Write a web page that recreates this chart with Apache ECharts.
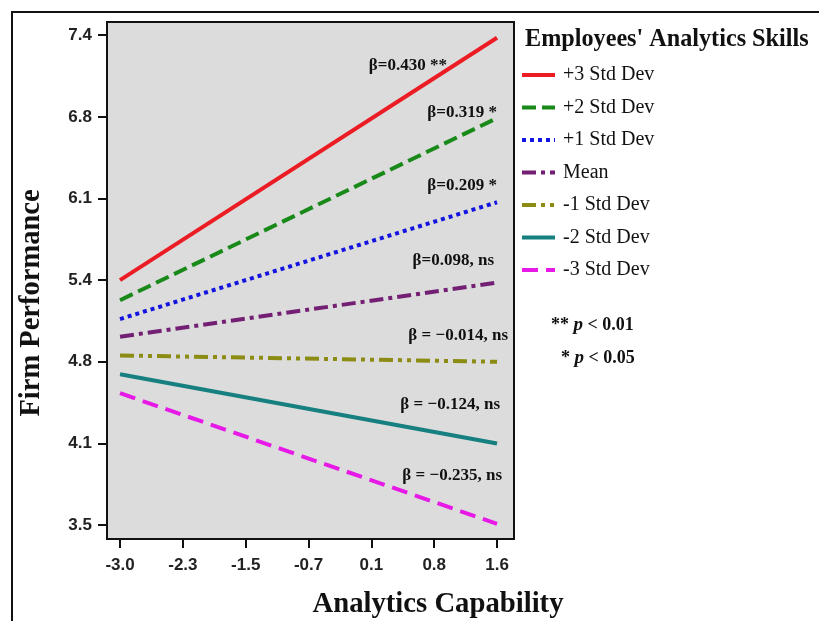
<!DOCTYPE html>
<html>
<head>
<meta charset="utf-8">
<script src="https://cdn.jsdelivr.net/npm/echarts@6/dist/echarts.min.js"></script>
<style>html,body{margin:0;padding:0;background:#fff}#c{width:819px;height:621px}</style>
</head>
<body>
<div id="c"></div>
<script>
// Data
const xValues = [-3.0, 1.6];
const seriesNames = ['+3 Std Dev', '+2 Std Dev', '+1 Std Dev', 'Mean', '-1 Std Dev', '-2 Std Dev', '-3 Std Dev'];
const plus3 = [5.45, 7.38];
const plus2 = [5.29, 6.74];
const plus1 = [5.14, 6.07];
const meanV = [5.00, 5.43];
const minus1 = [4.85, 4.80];
const minus2 = [4.70, 4.15];
const minus3 = [4.55, 3.51];
const xTickLabels = ['-3.0', '-2.3', '-1.5', '-0.7', '0.1', '0.8', '1.6'];
const yTickLabels = ['3.5', '4.1', '4.8', '5.4', '6.1', '6.8', '7.4'];
const betaLabels = ['β=0.430 **', 'β=0.319 *', 'β=0.209 *', 'β=0.098, ns', 'β = −0.014, ns', 'β = −0.124, ns', 'β = −0.235, ns'];

const allSeries = [plus3, plus2, plus1, meanV, minus1, minus2, minus3];
const xTicks = xTickLabels.map((_, i) => -3.0 + i * 4.6 / 6);
const yTicks = yTickLabels.map((_, i) => 3.5 + i * 3.9 / 6);

const styles = [
  {color: '#ec1c24', type: 'solid'},
  {color: '#198a19', type: [14, 6]},
  {color: '#1414e0', type: [4, 4]},
  {color: '#731f73', type: [14, 5, 4, 5]},
  {color: '#8c8c14', type: [14, 5, 4, 5, 4, 5]},
  {color: '#168080', type: 'solid'},
  {color: '#e619e6', type: [16, 8]}
];

function idxOf(arr, v) {
  for (let i = 0; i < arr.length; i++) if (Math.abs(arr[i] - v) < 1e-6) return i;
  return -1;
}

const chart = echarts.init(document.getElementById('c'));
const betaPos = [[447, 66], [497, 113], [497, 186], [494, 261], [508, 336], [500, 405], [502, 476]];

chart.setOption({
  animation: false,
  backgroundColor: '#fff',
  grid: {left: 107, top: 22, right: 305, bottom: 82, show: true, backgroundColor: '#dcdcdc', borderColor: '#111', borderWidth: 2},
  xAxis: {
    type: 'value', min: -3.159, max: 1.807,
    splitLine: {show: false},
    axisLine: {onZero: false, lineStyle: {color: '#111', width: 2}},
    axisTick: {show: true, length: 9, lineStyle: {color: '#111', width: 2}, customValues: xTicks},
    axisLabel: {customValues: xTicks, margin: 18, color: '#222', fontFamily: 'Liberation Sans', fontWeight: 'bold', fontSize: 17,
      formatter: v => { const i = idxOf(xTicks, v); return i >= 0 ? xTickLabels[i] : ''; }}
  },
  yAxis: {
    type: 'value', min: 3.389, max: 7.505,
    splitLine: {show: false},
    axisLine: {onZero: false, lineStyle: {color: '#111', width: 2}},
    axisTick: {show: true, length: 9, lineStyle: {color: '#111', width: 2}, customValues: yTicks},
    axisLabel: {customValues: yTicks, margin: 15, color: '#222', fontFamily: 'Liberation Sans', fontWeight: 'bold', fontSize: 17,
      formatter: v => { const i = idxOf(yTicks, v); return i >= 0 ? yTickLabels[i] : ''; }}
  },
  legend: {
    orient: 'vertical', left: 520, top: 65, padding: 0, itemWidth: 33, itemHeight: 14, itemGap: 12.5,
    data: seriesNames,
    itemStyle: {opacity: 0},
    lineStyle: {width: 4},
    textStyle: {fontFamily: 'Liberation Serif', fontSize: 20, color: '#111', padding: [0, 0, 0, 3]}
  },
  series: allSeries.map((vals, i) => ({
    name: seriesNames[i], type: 'line', symbol: 'none', silent: true,
    data: xValues.map((x, j) => [x, vals[j]]),
    lineStyle: {color: styles[i].color, width: 4, type: styles[i].type},
    itemStyle: {color: styles[i].color}
  })),
  graphic: [
    {type: 'rect', shape: {x: 12, y: 12, width: 900, height: 800}, style: {fill: 'none', stroke: '#111', lineWidth: 2}, z: 0, silent: true},
    {type: 'text', x: 32, y: 303, rotation: Math.PI / 2, style: {text: 'Firm Performance', font: 'bold 28.5px "Liberation Serif"', fill: '#111', align: 'center', verticalAlign: 'middle'}},
    {type: 'text', x: 438, y: 605, style: {text: 'Analytics Capability', font: 'bold 28.7px "Liberation Serif"', fill: '#111', align: 'center', verticalAlign: 'middle'}},
    {type: 'text', x: 525, y: 40, style: {text: "Employees' Analytics Skills", font: 'bold 24.2px "Liberation Serif"', fill: '#111', align: 'left', verticalAlign: 'middle'}},
    ...betaLabels.map((t, i) => ({type: 'text', x: betaPos[i][0], y: betaPos[i][1], z: 10,
      style: {text: t, font: 'bold 17px "Liberation Serif"', fill: '#111', align: 'right', verticalAlign: 'middle'}})),
    {type: 'text', x: 551, y: 325, style: {text: '{a|** }{b|p}{a| < 0.01}', rich: {a: {font: 'bold 18px "Liberation Serif"', fill: '#111'}, b: {font: 'italic bold 19px "Liberation Serif"', fill: '#111'}}, verticalAlign: 'middle'}},
    {type: 'text', x: 561, y: 358, style: {text: '{a|* }{b|p}{a| < 0.05}', rich: {a: {font: 'bold 18px "Liberation Serif"', fill: '#111'}, b: {font: 'italic bold 19px "Liberation Serif"', fill: '#111'}}, verticalAlign: 'middle'}}
  ]
});
</script>
</body>
</html>
